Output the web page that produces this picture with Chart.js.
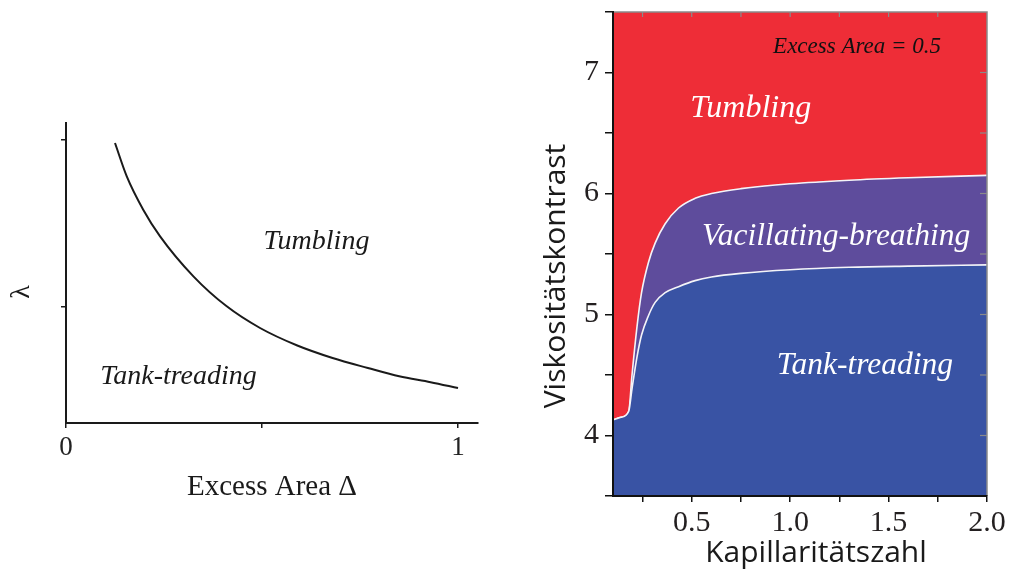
<!DOCTYPE html>
<html>
<head>
<meta charset="utf-8">
<script src="https://cdn.jsdelivr.net/npm/chart.js@4.4.1/dist/chart.umd.min.js"></script>
<style>
  html, body { margin: 0; padding: 0; background: #fff; }
  body { width: 1010px; height: 572px; position: relative; overflow: hidden; }
  #leftBox { position: absolute; left: 0; top: 0; width: 500px; height: 572px; }
  #rightBox { position: absolute; left: 530px; top: 0; width: 480px; height: 572px; }
</style>
</head>
<body>
<div id="leftBox"><canvas id="sketch" width="500" height="572"></canvas></div>
<div id="rightBox"><canvas id="phase" width="480" height="572"></canvas></div>
<script>
// left panel: critical viscosity ratio vs excess area (schematic)
const excessArea = [0.125, 0.155, 0.197, 0.24, 0.325, 0.41, 0.495, 0.59, 0.68, 0.77, 0.85, 0.93, 1.0];
const lambdaCrit = [1.98, 1.78, 1.58, 1.42, 1.18, 1.0, 0.87, 0.765, 0.69, 0.63, 0.58, 0.545, 0.51];
const sketchXTicks = [0, 0.5, 1];
const sketchYTicks = [1, 2];

// right panel: phase diagram, excess area = 0.5
const capNumber  = [0.1, 0.14, 0.18, 0.196, 0.222, 0.245, 0.28, 0.314, 0.365, 0.433, 0.517, 0.6, 0.75, 1.0, 1.3, 1.6, 2.0];
const upperBound = [4.13, 4.15, 4.20, 4.49, 4.90, 5.18, 5.43, 5.59, 5.75, 5.88, 5.96, 6.00, 6.04, 6.08, 6.11, 6.13, 6.15];
const lowerBound = [4.13, 4.15, 4.20, 4.38, 4.65, 4.83, 4.99, 5.10, 5.18, 5.23, 5.28, 5.31, 5.34, 5.37, 5.39, 5.40, 5.41];
const capTicks  = [0.25, 0.5, 0.75, 1.0, 1.25, 1.5, 1.75, 2.0];
const viscTicks = [3.5, 4, 4.5, 5, 5.5, 6, 6.5, 7, 7.5];

const SERIF = '"Liberation Serif", "DejaVu Serif", serif';
const SANS = '"Open Sans", "Liberation Sans", sans-serif';

function pts(xs, ys) {
  return xs.map((x, i) => ({x: x, y: ys[i]}));
}

// keep the chart area exactly where layout.padding puts it
function noLabelPadding(s) {
  s.paddingTop = 0;
  s.paddingBottom = 0;
  s.paddingLeft = 0;
  s.paddingRight = 0;
}

// text labels drawn at data positions, axis titles at pixel positions
const notesPlugin = {
  id: 'notes',
  afterDraw(chart, args, opts) {
    const ctx = chart.ctx;
    const xs = chart.scales.x, ys = chart.scales.y;
    ctx.save();
    ctx.textAlign = 'center';
    ctx.textBaseline = 'middle';
    (opts.items || []).forEach(n => {
      ctx.font = n.font;
      ctx.fillStyle = n.color;
      ctx.fillText(n.text, xs.getPixelForValue(n.x), ys.getPixelForValue(n.y));
    });
    (opts.titles || []).forEach(t => {
      ctx.save();
      ctx.font = t.font;
      ctx.fillStyle = '#1a1a1a';
      ctx.translate(t.px, t.py);
      ctx.rotate(t.rot || 0);
      ctx.fillText(t.text, 0, 0);
      ctx.restore();
    });
    ctx.restore();
  }
};

// gray top/right frame with inward ticks
const framePlugin = {
  id: 'frame',
  afterDatasetsDraw(chart) {
    const ctx = chart.ctx;
    const a = chart.chartArea;
    const xs = chart.scales.x, ys = chart.scales.y;
    ctx.save();
    ctx.strokeStyle = '#8a8a8a';
    ctx.lineWidth = 1.5;
    ctx.beginPath();
    ctx.moveTo(a.left, a.top);
    ctx.lineTo(a.right, a.top);
    ctx.lineTo(a.right, a.bottom);
    ctx.stroke();
    ctx.lineWidth = 1.2;
    capTicks.forEach(v => {
      const px = xs.getPixelForValue(v);
      if (px >= a.right - 1) return;
      ctx.beginPath();
      ctx.moveTo(px, a.top);
      ctx.lineTo(px, a.top + 5);
      ctx.stroke();
    });
    viscTicks.forEach(v => {
      const py = ys.getPixelForValue(v);
      if (py <= a.top + 1 || py >= a.bottom - 1) return;
      ctx.beginPath();
      ctx.moveTo(a.right, py);
      ctx.lineTo(a.right - 7, py);
      ctx.stroke();
    });
    ctx.restore();
  }
};

new Chart(document.getElementById('sketch'), {
  type: 'line',
  data: {
    datasets: [{
      data: pts(excessArea, lambdaCrit),
      borderColor: '#1a1a1a',
      borderWidth: 2,
      pointRadius: 0,
      cubicInterpolationMode: 'monotone',
      fill: false
    }]
  },
  options: {
    responsive: false,
    animation: false,
    devicePixelRatio: 1,
    layout: { padding: { top: 123, right: 22, left: 0, bottom: 0 } },
    scales: {
      x: {
        type: 'linear', min: 0, max: 1.051,
        afterBuildTicks: s => { s.ticks = sketchXTicks.map(v => ({value: v})); },
        afterFit: s => { s.height = 149; noLabelPadding(s); },
        ticks: {
          autoSkip: false, maxRotation: 0, padding: 4, color: '#222',
          font: { family: SERIF, size: 27 },
          callback: v => (v === 0.5 ? '' : String(v))
        },
        grid: { drawOnChartArea: false, tickLength: 5, color: '#1a1a1a', lineWidth: 1.5 },
        border: { color: '#1a1a1a', width: 2, z: 1 },
        title: {
          display: true, text: 'Excess Area \u0394', color: '#1a1a1a',
          font: { family: SERIF, size: 29 },
          padding: { top: 0, bottom: 67 }
        }
      },
      y: {
        type: 'linear', min: 0.3, max: 2.1,
        afterBuildTicks: s => { s.ticks = sketchYTicks.map(v => ({value: v})); },
        afterFit: s => { s.width = 66; noLabelPadding(s); },
        ticks: { autoSkip: false, callback: () => '' },
        grid: { drawOnChartArea: false, tickLength: 5, color: '#1a1a1a', lineWidth: 1.5 },
        border: { color: '#1a1a1a', width: 2, z: 1 }
      }
    },
    plugins: {
      legend: { display: false },
      tooltip: { enabled: false },
      notes: {
        items: [
          { text: 'Tumbling', x: 0.639, y: 1.39, color: '#1a1a1a', font: 'italic 28px ' + SERIF },
          { text: 'Tank-treading', x: 0.287, y: 0.58, color: '#1a1a1a', font: 'italic 28px ' + SERIF }
        ],
        titles: [
          { text: '\u03bb', px: 22, py: 292, rot: -Math.PI / 2, font: '28px ' + SERIF }
        ]
      }
    }
  },
  plugins: [notesPlugin]
});

new Chart(document.getElementById('phase'), {
  type: 'line',
  data: {
    datasets: [
      {
        label: 'Tank-treading',
        data: pts(capNumber, lowerBound),
        borderColor: '#f4f4f8',
        borderWidth: 1.6,
        pointRadius: 0,
        cubicInterpolationMode: 'monotone',
        backgroundColor: '#3953a4',
        fill: 'start'
      },
      {
        label: 'Vacillating-breathing',
        data: pts(capNumber, upperBound),
        borderColor: '#f4f4f8',
        borderWidth: 1.6,
        pointRadius: 0,
        cubicInterpolationMode: 'monotone',
        backgroundColor: '#5e4c9c',
        fill: '-1'
      },
      {
        label: 'Tumbling',
        data: pts(capNumber, upperBound),
        borderWidth: 0,
        pointRadius: 0,
        cubicInterpolationMode: 'monotone',
        backgroundColor: '#ee2d37',
        fill: 'end'
      }
    ]
  },
  options: {
    responsive: false,
    animation: false,
    devicePixelRatio: 1,
    layout: { padding: { top: 12, right: 23, left: 0, bottom: 0 } },
    scales: {
      x: {
        type: 'linear', min: 0.1, max: 2.0,
        afterBuildTicks: s => { s.ticks = capTicks.map(v => ({value: v})); },
        afterFit: s => { s.height = 76; noLabelPadding(s); },
        ticks: {
          autoSkip: false, maxRotation: 0, padding: 3, color: '#231f20',
          font: { family: SERIF, size: 30 },
          callback: v => ((v * 2) % 1 === 0 ? v.toFixed(1) : '')
        },
        grid: { drawOnChartArea: false, tickLength: 6, color: '#111', lineWidth: 1.5 },
        border: { color: '#111', width: 2, z: 1 }
      },
      y: {
        type: 'linear', min: 3.5, max: 7.5,
        afterBuildTicks: s => { s.ticks = viscTicks.map(v => ({value: v})); },
        afterFit: s => { s.width = 83; noLabelPadding(s); },
        ticks: {
          autoSkip: false, padding: 6, color: '#231f20',
          font: { family: SERIF, size: 30 },
          callback: v => (v % 1 === 0 ? String(v) : '')
        },
        grid: { drawOnChartArea: false, tickLength: 8, color: '#111', lineWidth: 1.5 },
        border: { color: '#111', width: 2, z: 1 }
      }
    },
    plugins: {
      legend: { display: false },
      tooltip: { enabled: false },
      notes: {
        items: [
          { text: 'Excess Area = 0.5', x: 1.34, y: 7.21, color: '#111', font: 'italic 23px ' + SERIF },
          { text: 'Tumbling', x: 0.80, y: 6.70, color: '#ffffff', font: 'italic 32px ' + SERIF },
          { text: 'Vacillating-breathing', x: 1.234, y: 5.64, color: '#ffffff', font: 'italic 31.5px ' + SERIF },
          { text: 'Tank-treading', x: 1.38, y: 4.58, color: '#ffffff', font: 'italic 31.5px ' + SERIF }
        ],
        titles: [
          { text: 'Viskosit\u00e4tskontrast', px: 26, py: 276, rot: -Math.PI / 2, font: '30px ' + SANS },
          { text: 'Kapillarit\u00e4tszahl', px: 286, py: 553, rot: 0, font: '30px ' + SANS }
        ]
      }
    }
  },
  plugins: [framePlugin, notesPlugin]
});
</script>
</body>
</html>
